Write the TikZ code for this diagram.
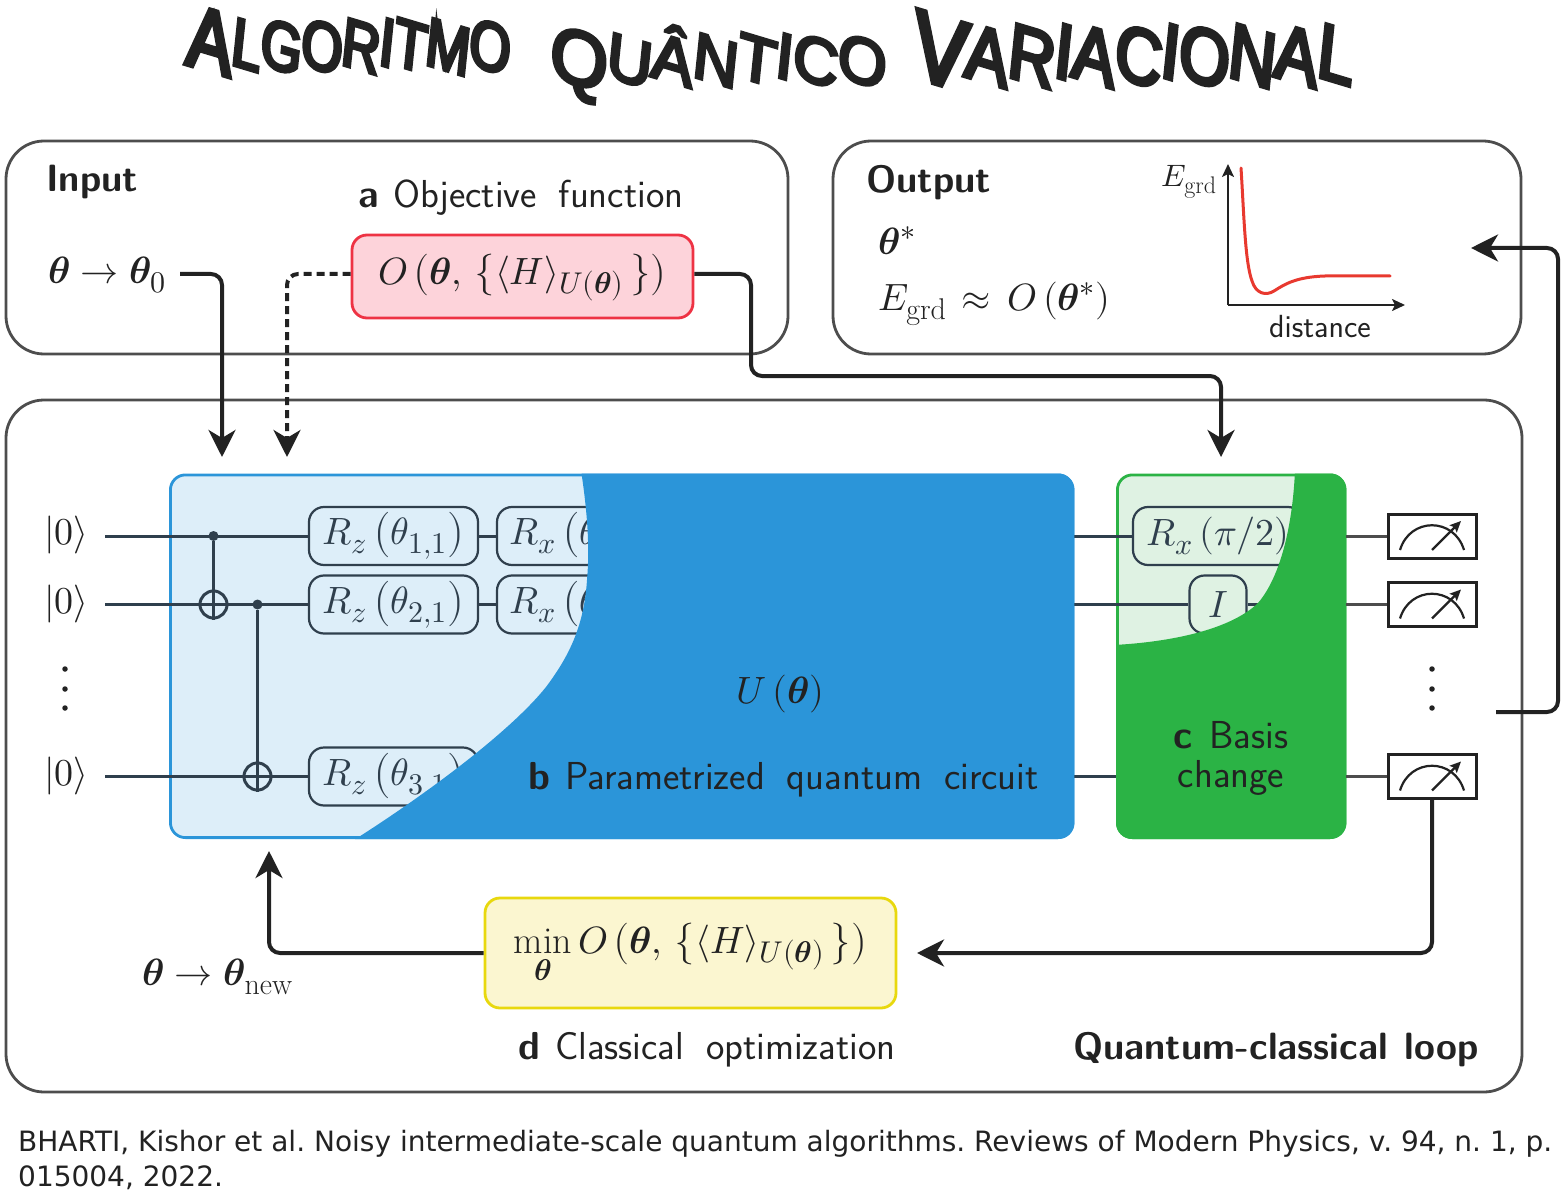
\documentclass[tikz,border=0pt]{standalone}
\usepackage{amsmath}
\usepackage{fontspec}
\usepackage{unicode-math}
\setmathfont{Latin Modern Math}
\DeclareMathSizes{38}{38}{30}{22}
\DeclareMathSizes{31}{31}{24}{18}
\newcommand{\bth}{\symbf{\theta}}
\newfontfamily\brushA[FakeStretch=0.745,FakeBold=5,FakeSlant=0.1]{Liberation Sans}
\newfontfamily\brushB[FakeStretch=0.94,FakeBold=5,FakeSlant=0.1]{Liberation Sans}
\newfontfamily\brushC[FakeStretch=0.80,FakeBold=5,FakeSlant=0.1]{Liberation Sans}
\newfontfamily\capfont{DejaVu Sans}
\usetikzlibrary{arrows.meta}
\definecolor{ink}{HTML}{222222}
\definecolor{frame}{HTML}{4D4D4D}
\definecolor{slate}{HTML}{2F3F4D}
\definecolor{bluedark}{HTML}{2B95D9}
\definecolor{bluelight}{HTML}{DDEEF9}
\definecolor{greendark}{HTML}{2BB345}
\definecolor{greenlight}{HTML}{DFF2E3}
\definecolor{redline}{HTML}{EE3344}
\definecolor{redfill}{HTML}{FDD3DA}
\definecolor{yelline}{HTML}{E8D80E}
\definecolor{yelfill}{HTML}{FBF6D0}
\definecolor{curvecol}{HTML}{E8392F}
\newcommand{\fsz}[1]{\fontsize{#1}{#1}\selectfont}
\newcommand{\slet}[1]{\setbox0\hbox{#1}\special{pdf:btrans matrix 1 -0.3 0 1 0 0}\box0\special{pdf:etrans}}
\newcommand{\AL}[1]{\slet{\fsz{90}\brushA #1}}
\newcommand{\AS}[1]{\slet{\fsz{70}\brushA #1}}
\newcommand{\BL}[1]{\slet{\fsz{78}\brushB #1}}
\newcommand{\BS}[1]{\slet{\fsz{66}\brushB #1}}
\newcommand{\CL}[1]{\slet{\fsz{100}\brushC #1}}
\newcommand{\CS}[1]{\slet{\fsz{80}\brushC #1}}
\newcommand{\objO}{O\,\bigl(\bth,\,\bigl\{\langle H\rangle_{U(\bth)}\,\bigr\}\bigr)}
\tikzset{
  x=1pt,y=-1pt,
  every node/.style={text=ink,inner sep=0pt},
  roundframe/.style={draw=frame,line width=2.8pt,rounded corners=38pt},
  wire/.style={draw=slate,line width=3pt},
  gate/.style={draw=slate,line width=2.2pt,rounded corners=15pt,minimum height=58pt,text=slate,font=\fsz{38}},
  flow/.style={draw=ink,line width=4pt,rounded corners=11pt,-{Stealth[length=27pt,width=27pt,inset=8pt]}},
  axisline/.style={draw=ink,line width=2.2pt,-{Stealth[length=13pt,width=12pt,inset=3pt]}},
  ket/.style={font=\fsz{38}},
  sans/.style={font=\fsz{39}\sffamily},
  sansbold/.style={font=\fsz{38}\sffamily\bfseries},
  mathbig/.style={font=\fsz{38}},
  meterbox/.style={draw=ink,line width=3pt,fill=white,minimum width=88pt,minimum height=44pt},
  meterline/.style={draw=ink,line width=2.2pt},
  dotmark/.style={fill=ink,circle,minimum size=5.5pt},
  ctrl/.style={fill=slate,circle,minimum size=10pt},
  targ/.style={draw=slate,line width=3pt,circle,minimum size=27pt},
}
\begin{document}
\begin{tikzpicture}
\useasboundingbox (0,0) rectangle (1563,1190);

% title
\node[anchor=base west] (title) at (185,64) {\AL{A}\AS{L}\AS{G}\AS{O}\AS{R}\AS{I}\AS{T}\AS{M}\AS{O}\hspace{40pt}\raisebox{-12pt}{\BL{Q}\BS{U}\BS{Â}\BS{N}\BS{T}\BS{I}\BS{C}\BS{O}}\hspace{26pt}\raisebox{-12pt}{\CL{V}\CS{A}\CS{R}\CS{I}\CS{A}\CS{C}\CS{I}\CS{O}\CS{N}\CS{A}\CS{L}}};

% frames
\draw[roundframe] (6,141) rectangle (788,354);
\draw[roundframe] (833,141) rectangle (1521,354);
\draw[roundframe] (6,400) rectangle (1522,1092);

% input
\node[sansbold,anchor=base west] (inp) at (46,192) {Input};
\node[sans,anchor=base west] (aobj) at (358,208) {\spaceskip=0.56em\textbf{a}\hspace{15pt}Objective function};
\node[mathbig,anchor=west] (th0) at (48,275) {$\bth\rightarrow\bth_0$};
\node[draw=redline,fill=redfill,line width=2.8pt,rounded corners=15pt,minimum width=341pt,minimum height=83pt,font=\fsz{38}] (obj) at (522.5,276.5) {$\objO$};

% output
\node[sansbold,anchor=base west] (outp) at (866,193) {Output};
\node[mathbig,anchor=west] (thstar) at (878,241) {$\bth^{*}$};
\node[mathbig,anchor=west] (egrd) at (878,304) {$E_{\mathrm{grd}}\mkern2mu\approx\mkern3mu O\left(\bth^{*}\right)$};
\coordinate (orig) at (1228,305);
\coordinate (ytop) at (1228,164);
\coordinate (xend) at (1405,305);
\draw[axisline] (orig) -- (ytop);
\draw[axisline] (orig) -- (xend);
\draw[curvecol,line width=3pt,line cap=round] (1241,168) .. controls (1244,215) and (1245,262) .. (1252,281) .. controls (1256,294) and (1266,296) .. (1274,291) .. controls (1285,284) and (1296,277) .. (1325,276) -- (1390,276);
\node[font=\fsz{31}] (ey) at (1189,182) {$E_{\mathrm{grd}}$};
\node[font=\fsz{32}\sffamily] (dist) at (1320,327) {distance};

% panels b and c
\draw[draw=bluedark,fill=bluelight,line width=2.8pt,rounded corners=15pt] (170.4,474.9) rectangle (1073,837.6);
\draw[draw=greendark,fill=greenlight,line width=2.8pt,rounded corners=15pt] (1117.4,474.9) rectangle (1345,837.6);

% kets
\node[ket] (k1) at (66.5,535) {$|0\rangle$};
\node[ket] (k2) at (66.5,604) {$|0\rangle$};
\node[ket] (k3) at (66.5,776) {$|0\rangle$};
\coordinate (w1) at (105,536);
\coordinate (w2) at (105,604.5);
\coordinate (w3) at (105,776.5);
\foreach \yy [count=\i] in {669,689,708} {
  \node[dotmark] (ld\i) at (65,\yy) {};
  \node[dotmark] (rd\i) at (1432,\yy) {};
}

% gates
\node[gate,minimum width=169pt] (rz1) at (393.5,536) {$R_z\left(\theta_{1,1}\right)$};
\node[gate,minimum width=169pt] (rz2) at (393.5,604.5) {$R_z\left(\theta_{2,1}\right)$};
\node[gate,minimum width=169pt] (rz3) at (393.5,776.5) {$R_z\left(\theta_{3,1}\right)$};
\node[gate,minimum width=169pt] (rx1) at (581.5,536) {$R_x\left(\theta_{1,2}\right)$};
\node[gate,minimum width=169pt] (rx2) at (581.5,604.5) {$R_x\left(\theta_{2,2}\right)$};
\node[gate,minimum width=170pt] (rb) at (1218,536) {$R_x\left(\pi/2\right)$};
\node[gate,minimum width=57pt] (idg) at (1218,604.5) {$I$};
\coordinate (idout) at (1265,604.5);
\coordinate (bR1) at (1074,536);
\coordinate (bR2) at (1074,604.5);
\coordinate (bR3) at (1074,776.5);
\coordinate (gL3) at (1116,776.5);
\coordinate (gR1) at (1346,536);
\coordinate (gR2) at (1346,604.5);
\coordinate (gR3) at (1346,776.5);

% wires
\node[ctrl] (c1) at (213.5,536) {};
\node[targ] (t1) at (213.5,604.5) {};
\node[ctrl] (c2) at (257.5,604.5) {};
\node[targ] (t2) at (257.5,776.5) {};
\draw[wire] (w1) -- (rz1.west);
\draw[wire] (w2) -- (rz2.west);
\draw[wire] (w3) -- (rz3.west);
\draw[wire] (rz1.east) -- (rx1.west);
\draw[wire] (rz2.east) -- (rx2.west);
\draw[wire] (rb.west) -- (bR1);
\draw[wire] (idg.west) -- (bR2);
\draw[wire] (idg.east) -- (idout);
\draw[wire] (bR3) -- (gL3);
\draw[wire] (c1) -- (t1.south);
\draw[wire] (c2) -- (t2.south);

% dark overlays
\begin{scope}
\clip[rounded corners=16pt] (169,473.5) rectangle (1074.4,839);
\fill[bluedark] (581,470) .. controls (587,510) and (590,545) .. (587,580) .. controls (584,625) and (570,655) .. (546,687) .. controls (510,732) and (425,795) .. (354,840) -- (1080,840) -- (1080,470) -- cycle;
\end{scope}
\begin{scope}
\clip[rounded corners=16pt] (1116,473.5) rectangle (1346.4,839);
\fill[greendark] (1295,470) .. controls (1293,520) and (1282,575) .. (1258,603) .. controls (1230,630) and (1170,642) .. (1114,645) -- (1114,840) -- (1350,840) -- (1350,470) -- cycle;
\end{scope}

% panel labels
\node[font=\fsz{38}] (uth) at (780,694) {$U\left(\bth\right)$};
\node[sans,anchor=base west] (blab) at (528,789) {\spaceskip=0.56em\textbf{b}\hspace{15pt}Parametrized quantum circuit};
\node[sans,align=center] (clab) at (1231,758) {\spaceskip=0.42em\textbf{c} Basis\\change};

% meters
\foreach \nm/\yy in {m1/536,m2/604.5,m3/776.5} {
  \node[meterbox] (\nm) at (1432,\yy) {};
  \draw[meterline] ([shift={(-32,14)}]\nm.center) .. controls ([shift={(-22,-19)}]\nm.center) and ([shift={(22,-19)}]\nm.center) .. ([shift={(32,14)}]\nm.center);
  \draw[meterline,-{Stealth[length=11pt,width=10pt,inset=2pt]}] ([shift={(0,14)}]\nm.center) -- ([shift={(29,-15)}]\nm.center);
}
\draw[wire,draw=frame] (gR1) -- (m1.west);
\draw[wire,draw=frame] (gR2) -- (m2.west);
\draw[wire,draw=frame] (gR3) -- (m3.west);

% optimisation
\node[draw=yelline,fill=yelfill,line width=2.8pt,rounded corners=15pt,minimum width=411pt,minimum height=110pt,font=\fsz{38}] (opt) at (690.5,953) {\raisebox{5pt}{$\displaystyle\min_{\bth}\objO$}};
\node[sans,anchor=base west] (dlab) at (518,1059) {\spaceskip=0.56em\textbf{d}\hspace{15pt}Classical optimization};
\node[sansbold,anchor=base west] (qcl) at (1073,1059) {\spaceskip=0.45em Quantum-classical loop};
\node[mathbig,anchor=west] (thnew) at (142,977) {$\bth\rightarrow\bth_{\mathrm{new}}$};

% connectors
\coordinate (inA) at (222,457);
\coordinate (inB) at (287,457);
\coordinate (inC) at (1221,457);
\coordinate (kneeC) at (751,376);
\coordinate (outS) at (1496,712);
\coordinate (outK) at (1558,248);
\coordinate (outE) at (1471,248);
\coordinate (optIn) at (917,953);
\coordinate (backE) at (269,851);
\coordinate (th0e) at (180,274);
\draw[flow] (th0e) -| (inA);
\draw[flow,dash pattern=on 8pt off 5pt] (obj.west |- 0,274) -| (inB);
\draw[flow] (obj.east |- 0,274) -| (kneeC) -| (inC);
\draw[flow] (outS) -| (outK) -- (outE);
\draw[flow] (m3.south) |- (optIn);
\draw[flow] (opt.west) -| (backE);

% reference
\node[font=\fsz{28}\capfont,anchor=base west] (ref1) at (18,1151) {\frenchspacing BHARTI, Kishor et al. Noisy intermediate-scale quantum algorithms. Reviews of Modern Physics, v. 94, n. 1, p.};
\node[font=\fsz{28}\capfont,anchor=base west] (ref2) at (18,1186) {015004, 2022.};
\end{tikzpicture}
\end{document}
